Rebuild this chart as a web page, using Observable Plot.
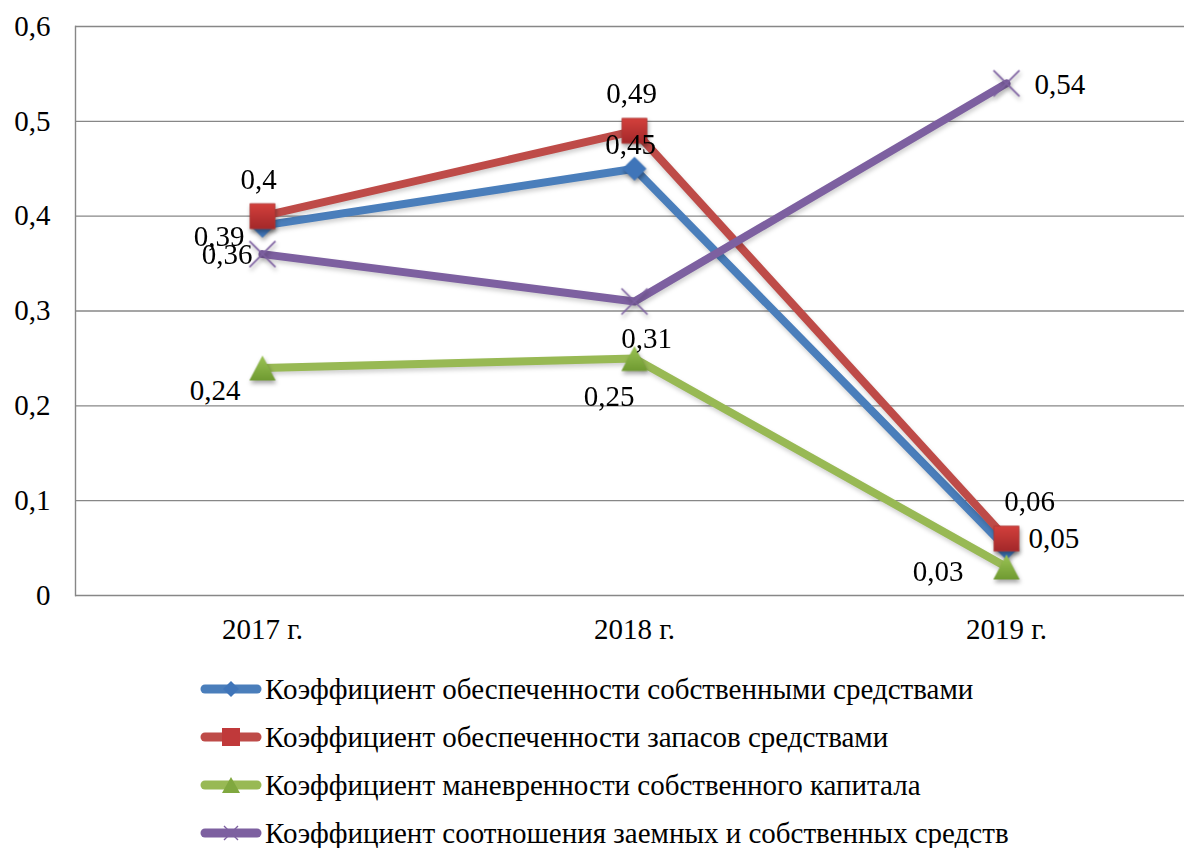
<!DOCTYPE html>
<html><head><meta charset="utf-8">
<script src="https://cdn.jsdelivr.net/npm/d3@7"></script>
<script src="https://cdn.jsdelivr.net/npm/@observablehq/plot@0.6"></script>
<style>
body{margin:0;background:#fff;font-family:"Liberation Serif","Times New Roman",serif;}
#legend{margin-top:15px;}
.row{height:48px;display:flex;align-items:center;padding-left:200px;font-size:29px;color:#000;white-space:nowrap;}
.row svg{margin-right:3px;flex:none;}
</style></head><body><div id="chart"></div><div id="legend"></div>
<script>
const years = ["2017 г.", "2018 г.", "2019 г."];
const seriesNames = [
  "Коэффициент обеспеченности собственными средствами",
  "Коэффициент обеспеченности запасов средствами",
  "Коэффициент маневренности собственного капитала",
  "Коэффициент соотношения заемных и собственных средств"
];
const selfFundsRatio = [0.39, 0.45, 0.05];
const inventoryRatio = [0.4, 0.49, 0.06];
const agilityRatio = [0.24, 0.25, 0.03];
const debtEquityRatio = [0.36, 0.31, 0.54];
const yTicks = [0, 0.1, 0.2, 0.3, 0.4, 0.5, 0.6];

const seriesValues = [selfFundsRatio, inventoryRatio, agilityRatio, debtEquityRatio];
const lineColors = ["#4a7ebb", "#be4b48", "#98b954", "#7d60a0"];
const markerFills = ["#3f75b9", "url(#redGrad)", "url(#greenGrad)", "none"];
const symbolNames = ["diamond", "square", "triangle", "times"];
// label placement per point: [dx, dy, anchor]
const labelStyle = [
  [[-18, 11, "end"], [-4, -24, "middle"], [22, -9, "start"]],
  [[-4, -36, "middle"], [-3, -37, "middle"], [23, -37, "middle"]],
  [[-22, 23, "end"], [0, 38, "end"], [-43, 5, "end"]],
  [[-10, 1, "end"], [12, 37, "middle"], [28, 1, "start"]]
];

const fmt = d => String(d).replace(".", ",");

const rows = seriesValues.flatMap((vals, s) =>
  vals.map((v, i) => ({series: seriesNames[s], s, i, year: years[i], value: v})));

function makeSymbol(kind) {
  return {
    draw(ctx, size) {
      const r = Math.sqrt(size / Math.PI);
      if (kind === "diamond") {
        ctx.moveTo(0, -r); ctx.lineTo(r, 0); ctx.lineTo(0, r); ctx.lineTo(-r, 0); ctx.closePath();
      } else if (kind === "square") {
        ctx.moveTo(-r, -r); ctx.lineTo(r, -r); ctx.lineTo(r, r); ctx.lineTo(-r, r); ctx.closePath();
      } else if (kind === "triangle") {
        ctx.moveTo(0, -r); ctx.lineTo(r * 1.05, r); ctx.lineTo(-r * 1.05, r); ctx.closePath();
      } else {
        ctx.moveTo(-r, -r); ctx.lineTo(r, r); ctx.moveTo(r, -r); ctx.lineTo(-r, r);
      }
    }
  };
}
const markerR = [12, 12.5, 12.5, 13];

const defs = () => {
  const g = d3.create("svg:defs");
  const red = g.append("linearGradient").attr("id", "redGrad").attr("x1", 0).attr("y1", 0).attr("x2", 0).attr("y2", 1);
  red.append("stop").attr("offset", "0%").attr("stop-color", "#d3403c");
  red.append("stop").attr("offset", "100%").attr("stop-color", "#a3282a");
  const green = g.append("linearGradient").attr("id", "greenGrad").attr("x1", 0).attr("y1", 0).attr("x2", 0).attr("y2", 1);
  green.append("stop").attr("offset", "0%").attr("stop-color", "#9cc455");
  green.append("stop").attr("offset", "100%").attr("stop-color", "#6f9a31");
  return g.node();
};

const marks = [
  defs,
  Plot.ruleY(yTicks, {stroke: "#878787", strokeWidth: 1.4}),
  Plot.frame({anchor: "left", stroke: "#878787", strokeWidth: 1.4}),
  Plot.axisY({ticks: yTicks, tickSize: 0, tickPadding: 25, tickFormat: fmt, fontSize: 29, label: null}),
  Plot.axisX({tickSize: 0, tickPadding: 23, fontSize: 29, label: null})
];
seriesValues.forEach((vals, s) => {
  const data = rows.filter(d => d.s === s);
  marks.push(Plot.line(data, {x: "year", y: "value", stroke: lineColors[s], strokeWidth: 8, strokeLinejoin: "round"}));
  marks.push(Plot.dot(data, {
    x: "year", y: "value", symbol: makeSymbol(symbolNames[s]), r: markerR[s],
    fill: markerFills[s],
    stroke: s === 3 ? lineColors[s] : (s === 1 ? "#b03633" : "none"),
    strokeWidth: s === 3 ? 1.6 : 0.8
  }));
});
rows.forEach(d => {
  const [dx, dy, anchor] = labelStyle[d.s][d.i];
  marks.push(Plot.text([d], {x: "year", y: "value", text: r => fmt(r.value), dx, dy, textAnchor: anchor, fontSize: 29, fill: "#000"}));
});

const chart = Plot.plot({
  width: 1184, height: 650,
  marginLeft: 75, marginRight: 0, marginTop: 26, marginBottom: 55,
  style: {fontFamily: "'Liberation Serif', 'Times New Roman', serif", fontSize: "29px", color: "#000", background: "#fff"},
  x: {domain: years, type: "point", range: [75, 1192], padding: 0.5, label: null},
  y: {domain: [0, 0.6], range: [595, 26], label: null},
  marks
});
d3.select(chart).selectAll('g[aria-label="dot"]').style("filter", "drop-shadow(1px 3px 2px rgba(0,0,0,0.35))");
d3.select(chart).selectAll('g[aria-label="line"]').style("filter", "drop-shadow(1px 3px 2px rgba(0,0,0,0.18))");
document.getElementById("chart").appendChild(chart);

const legend = d3.select("#legend");
const legendSym = [
  s => s.append("path").attr("d", "M31,4 L39,12 L31,20 L23,12Z").attr("fill", "#3f75b9"),
  s => s.append("rect").attr("x", 22).attr("y", 3).attr("width", 18).attr("height", 18).attr("fill", "#c0393a"),
  s => s.append("path").attr("d", "M31,4 L40,20 L22,20Z").attr("fill", "#80a83f"),
  s => s.append("path").attr("d", "M24,5 L38,19 M38,5 L24,19").attr("stroke", "#7d60a0").attr("stroke-width", 1.4)
];
seriesNames.forEach((name, s) => {
  const row = legend.append("div").attr("class", "row");
  const sv = row.append("svg").attr("width", 62).attr("height", 24);
  sv.append("line").attr("x1", 5).attr("x2", 57).attr("y1", 12).attr("y2", 12)
    .attr("stroke", lineColors[s]).attr("stroke-width", 9).attr("stroke-linecap", "round");
  legendSym[s](sv);
  row.append("span").text(name);
});
</script></body></html>
